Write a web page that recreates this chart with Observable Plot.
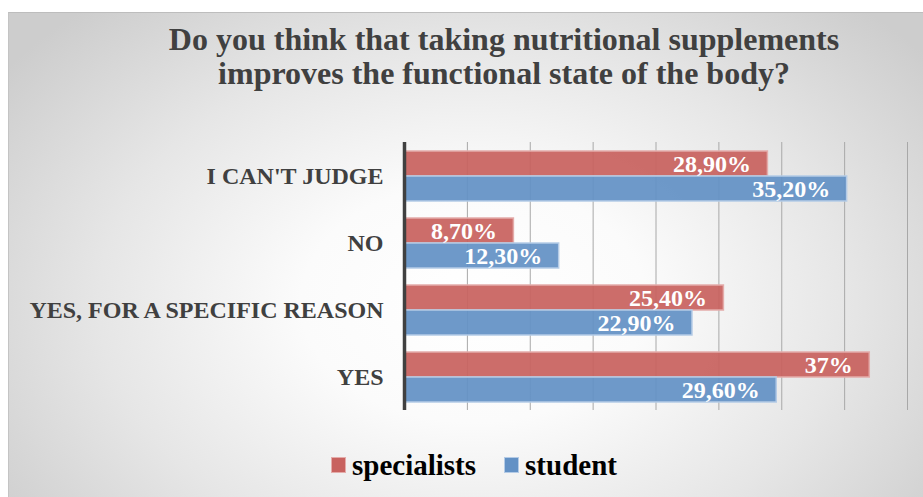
<!DOCTYPE html>
<html>
<head>
<meta charset="utf-8">
<script src="https://cdn.jsdelivr.net/npm/d3@7"></script>
<script src="https://cdn.jsdelivr.net/npm/@observablehq/plot@0.6"></script>
<style>
  html, body { margin: 0; padding: 0; background: #ffffff; }
  #wrap { position: relative; width: 923px; height: 497px; overflow: hidden; font-family: "Liberation Serif", Tinos, "Times New Roman", Times, "DejaVu Serif", serif; }
  #frame { position: absolute; left: 8px; top: 12px; width: 930px; height: 500px;
    background: radial-gradient(ellipse 62% 80% at 50% 58%, #ffffff 0%, #fbfbfb 30%, #e6e6e6 65%, #cdcdcd 100%);
    border-top: 1px solid #bdbdbd; border-left: 1px solid #c4c4c4; box-sizing: border-box; }
  #title { position: absolute; left: 85px; width: 838px; top: 22px; text-align: center;
    font-size: 32px; line-height: 34px; font-weight: bold; color: #404040; }
  #chart { position: absolute; left: 0; top: 130px; }
  #legend { position: absolute; left: 331px; top: 451px; display: flex; align-items: center;
    font-size: 29px; line-height: 28px; font-weight: bold; color: #000; }
  .sw { width: 13px; height: 14px; border: 1px solid; display: inline-block; }
</style>
</head>
<body>
<div id="wrap">
  <div id="frame"></div>
  <div id="title">Do you think that taking nutritional supplements<br>improves the functional state of the body?</div>
  <div id="chart"></div>
  <div id="legend"></div>
</div>
<script>
// ---- data ----
const categories = ["I CAN'T JUDGE", "NO", "YES, FOR A SPECIFIC REASON", "YES"];
const seriesNames = ["specialists", "student"];
const specialistsValues = [28.9, 8.7, 25.4, 37];
const studentValues = [35.2, 12.3, 22.9, 29.6];
const specialistsLabels = ["28,90%", "8,70%", "25,40%", "37%"];
const studentLabels = ["35,20%", "12,30%", "22,90%", "29,60%"];
const gridTicks = [5, 10, 15, 20, 25, 30, 35, 40];
const colors = ["#c8625f", "#6391c5"];
const strokeColors = ["#e4acaa", "#b4cbe6"];

const rows = [];
categories.forEach((c, i) => {
  rows.push({category: c, series: seriesNames[0], value: specialistsValues[i], label: specialistsLabels[i]});
  rows.push({category: c, series: seriesNames[1], value: studentValues[i], label: studentLabels[i]});
});

const serif = "'Liberation Serif', Tinos, 'Times New Roman', Times, 'DejaVu Serif', serif";

const chart = Plot.plot({
  width: 923,
  height: 290,
  marginTop: 10,
  marginBottom: 9,
  marginLeft: 404,
  marginRight: 16,
  style: {background: "transparent", fontFamily: serif, fontSize: "24px", fontWeight: "bold", color: "#404040", overflow: "visible"},
  fy: {domain: categories, padding: 0, axis: "left", tickSize: 0, tickPadding: 21, label: null},
  x: {domain: [0, 40], axis: null},
  y: {domain: seriesNames, paddingInner: 0, paddingOuter: 0.33, axis: null},
  color: {domain: seriesNames, range: colors},
  marks: [
    Plot.ruleX(gridTicks, {stroke: "#a8a8a8", strokeWidth: 1}),
    Plot.barX(rows, {x: "value", y: "series", fy: "category", fill: "series", fillOpacity: 0.93,
      stroke: d => strokeColors[seriesNames.indexOf(d.series)], strokeWidth: 1.5}),
    Plot.ruleX([0], {stroke: "#404040", strokeWidth: 3.5}),
    Plot.text(rows, {x: "value", y: "series", fy: "category", text: "label", textAnchor: "end", dx: -17,
      fill: "white", fontSize: 24, fontWeight: "bold", fontFamily: serif})
  ]
});
document.getElementById("chart").appendChild(chart);

// legend
const legend = document.getElementById("legend");
seriesNames.forEach((s, i) => {
  const sw = document.createElement("span");
  sw.className = "sw";
  sw.style.background = colors[i];
  sw.style.borderColor = strokeColors[i];
  sw.style.marginRight = "6px";
  legend.appendChild(sw);
  const t = document.createElement("span");
  t.textContent = s;
  if (i === 0) t.style.marginRight = "28px";
  legend.appendChild(t);
});
</script>
</body>
</html>
